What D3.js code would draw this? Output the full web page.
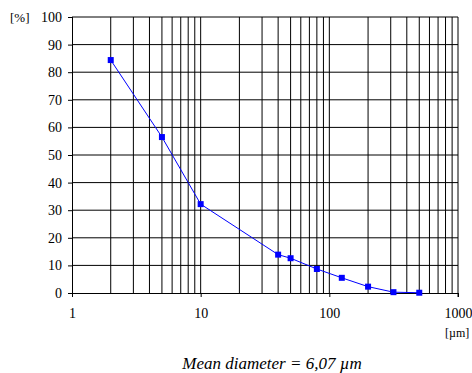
<!DOCTYPE html>
<html>
<head>
<meta charset="utf-8">
<script src="https://cdn.jsdelivr.net/npm/d3@7"></script>
<style>
  body { margin: 0; background: #fff; }
  svg text { font-family: "Times New Roman", "Liberation Serif", Tinos, serif; }
</style>
</head>
<body>
<svg id="chart" width="472" height="373"></svg>
<script>
var sizes = [2, 5, 10, 40, 50, 80, 125, 200, 315, 500];
var percents = [84.4, 56.5, 32.2, 13.9, 12.6, 8.7, 5.5, 2.3, 0.3, 0.1];
var yTicks = [0, 10, 20, 30, 40, 50, 60, 70, 80, 90, 100];
var xTicks = [1, 10, 100, 1000];

var svg = d3.select("#chart"),
    margin = {top: 17, right: 14, bottom: 80, left: 72},
    w = +svg.attr("width") - margin.left - margin.right,
    h = +svg.attr("height") - margin.top - margin.bottom;

var x = d3.scaleLog().domain([1, 1000]).range([0, w]);
var y = d3.scaleLinear().domain([0, 100]).range([h, 0]);

var g = svg.append("g")
    .attr("transform", "translate(" + margin.left + "," + margin.top + ")");

// vertical grid lines 1..9 per decade
var minor = [];
[1, 10, 100].forEach(function(d) {
  for (var k = 2; k <= 9; k++) minor.push(d * k);
});
minor = minor.concat([10, 100]);

g.selectAll(".vgrid")
    .data(minor)
  .enter().append("line")
    .attr("class", "vgrid")
    .attr("x1", function(d) { return x(d); })
    .attr("x2", function(d) { return x(d); })
    .attr("y1", 0).attr("y2", h)
    .attr("stroke", "#000").attr("stroke-width", 1);

g.selectAll(".hgrid")
    .data(yTicks.slice(1))
  .enter().append("line")
    .attr("class", "hgrid")
    .attr("x1", 0).attr("x2", w)
    .attr("y1", function(d) { return y(d); })
    .attr("y2", function(d) { return y(d); })
    .attr("stroke", "#000").attr("stroke-width", 1);

// axes
g.append("g")
    .attr("transform", "translate(0," + h + ")")
    .call(d3.axisBottom(x).tickValues(xTicks).tickFormat(d3.format("d")).tickSize(4).tickPadding(11))
    .call(function(a) {
      a.attr("font-family", null).attr("font-size", null);
      a.select(".domain").attr("stroke", "#000");
      a.selectAll("text").attr("fill", "#000").style("font-size", "14px");
    });

g.append("g")
    .call(d3.axisLeft(y).tickValues(yTicks).tickSize(4).tickPadding(6))
    .call(function(a) {
      a.attr("font-family", null).attr("font-size", null);
      a.select(".domain").attr("stroke", "#000").attr("d", "M0.5," + h + "V0");
      a.selectAll("text").attr("fill", "#000").style("font-size", "14px");
    });

g.append("line")
    .attr("x1", w).attr("x2", w).attr("y1", 0).attr("y2", h + 4)
    .attr("stroke", "#000");

// series
var line = d3.line()
    .x(function(d, i) { return x(sizes[i]); })
    .y(function(d) { return y(d); });

g.append("path")
    .datum(percents)
    .attr("fill", "none")
    .attr("stroke", "#0000ff")
    .attr("stroke-width", 1)
    .attr("d", line);

g.selectAll(".pt")
    .data(percents)
  .enter().append("rect")
    .attr("class", "pt")
    .attr("x", function(d, i) { return x(sizes[i]) - 3; })
    .attr("y", function(d) { return y(d) - 3; })
    .attr("width", 6).attr("height", 6)
    .attr("fill", "#0000ff");

// labels
svg.append("text")
    .attr("x", 10).attr("y", 22)
    .style("font-size", "13px")
    .text("[%]");

svg.append("text")
    .attr("x", 445).attr("y", 337)
    .style("font-size", "12px")
    .text("[\u00b5m]");

svg.append("text")
    .attr("x", 272).attr("y", 369)
    .attr("text-anchor", "middle")
    .style("font-size", "17px")
    .style("font-style", "italic")
    .text("Mean diameter = 6,07 \u00b5m");
</script>
</body>
</html>
